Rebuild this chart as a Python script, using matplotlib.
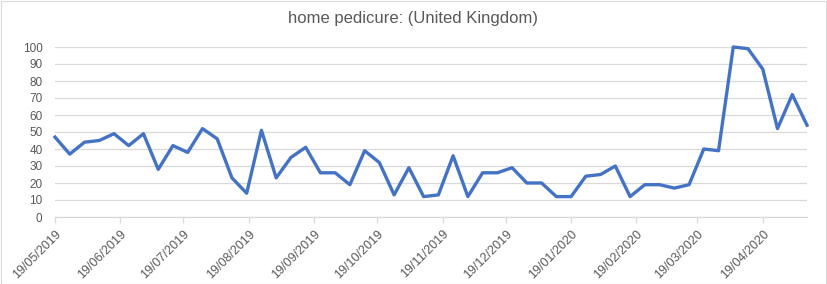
import pandas as pd
import matplotlib.pyplot as plt
import matplotlib.dates as mdates
from matplotlib.patches import Rectangle

# weekly search interest, starting 19/05/2019
start = '2019-05-19'
values = [47, 37, 44, 45, 49, 42, 49, 28, 42, 38,
          52, 46, 23, 14, 51, 23, 35, 41, 26, 26,
          19, 39, 32, 13, 29, 12, 13, 36, 12, 26,
          26, 29, 20, 20, 12, 12, 24, 25, 30, 12,
          19, 19, 17, 19, 40, 39, 100, 99, 87, 52,
          72, 54]
dates = pd.date_range(start, periods=len(values), freq='7D')
tick_dates = pd.date_range('2019-05-01', '2020-04-01', freq='MS') + pd.Timedelta(days=18)

title = 'home pedicure: (United Kingdom)'

plt.rcParams['font.family'] = ['Liberation Sans', 'DejaVu Sans']

fig = plt.figure(figsize=(8.27, 2.84), dpi=100)
W, H = 827, 284
ax = fig.add_axes([55 / W, 1 - 217 / H, (807 - 55) / W, (217 - 47) / H])

ax.plot(dates, values, color='#4472C4', lw=2.4, clip_on=False)

ax.set_xlim(dates[0], dates[-1])
ax.set_ylim(0, 100)
ax.set_yticks(range(0, 101, 10))
ax.yaxis.grid(True, color='#d9d9d9', lw=0.9)
ax.set_axisbelow(True)

ax.set_xticks(tick_dates)
ax.xaxis.set_major_formatter(mdates.DateFormatter('%d/%m/%Y'))
for lbl in ax.get_xticklabels():
    lbl.set_rotation(45)
    lbl.set_ha('right')
    lbl.set_rotation_mode('anchor')

ax.tick_params(axis='x', colors='#d9d9d9', length=4, width=0.9, labelcolor='#595959', labelsize=9, pad=4)
ax.tick_params(axis='y', length=0, labelcolor='#595959', labelsize=8.5, pad=9)

for s in ['top', 'right', 'left']:
    ax.spines[s].set_visible(False)
ax.spines['bottom'].set_color('#d9d9d9')
ax.spines['bottom'].set_linewidth(0.9)

fig.text(0.5, 1 - 19 / H, title, ha='center', va='center', fontsize=12, color='#595959')

fig.patches.append(Rectangle((0.5 / W, 0.5 / H), 1 - 1.5 / W, 1 - 1.5 / H, transform=fig.transFigure,
                             fill=False, edgecolor='#d9d9d9', lw=0.8))

fig.savefig('out.png', dpi=100)
